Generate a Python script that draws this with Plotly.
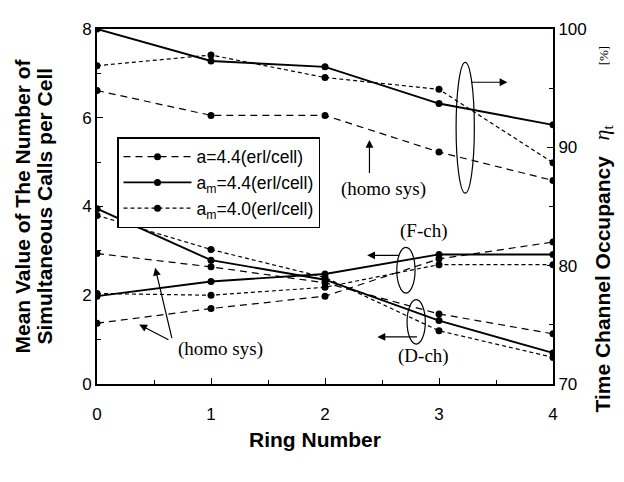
import plotly.graph_objects as go

ring = [0, 1, 2, 3, 4]

# Time channel occupancy [%] (right axis)
occ_a44 = [94.8, 92.7, 92.7, 89.6, 87.2]
occ_am44 = [100.0, 97.3, 96.8, 93.7, 91.9]
occ_am40 = [96.9, 97.8, 95.9, 94.9, 88.7]

# D-ch mean simultaneous calls (left axis)
d_a44 = [2.94, 2.64, 2.28, 1.58, 1.13]
d_am44 = [3.95, 2.79, 2.35, 1.43, 0.70]
d_am40 = [3.80, 3.03, 2.40, 1.20, 0.60]

# F-ch mean simultaneous calls (left axis)
f_a44 = [1.37, 1.70, 1.98, 2.82, 3.20]
f_am44 = [1.98, 2.31, 2.48, 2.92, 2.92]
f_am40 = [2.04, 2.00, 2.18, 2.69, 2.69]

names = ["a=4.4(erl/cell)", "a<sub>m</sub>=4.4(erl/cell)", "a<sub>m</sub>=4.0(erl/cell)"]
styles = [
    dict(dash="7px,5px", width=1.2),
    dict(dash="solid", width=1.9),
    dict(dash="4px,3px", width=1.2),
]

fig = go.Figure()
occ = [occ_a44, occ_am44, occ_am40]
dch = [d_a44, d_am44, d_am40]
fch = [f_a44, f_am44, f_am40]

for i in range(3):
    fig.add_trace(go.Scatter(x=ring, y=occ[i], yaxis="y2", name=names[i], mode="lines+markers",
                             line=dict(color="black", **styles[i]),
                             marker=dict(color="black", size=7), showlegend=True))
for i in range(3):
    fig.add_trace(go.Scatter(x=ring, y=dch[i], name=names[i], mode="lines+markers",
                             line=dict(color="black", **styles[i]),
                             marker=dict(color="black", size=7), showlegend=False))
    fig.add_trace(go.Scatter(x=ring, y=fch[i], name=names[i], mode="lines+markers",
                             line=dict(color="black", **styles[i]),
                             marker=dict(color="black", size=7), showlegend=False))

sans = "Liberation Sans, Arial, sans-serif"
serif = "Liberation Serif, Times New Roman, serif"

# page body has an 8px margin: shrink the figure so the plot lands where the reference has it
W, H = 616, 474
L, R, T, B = 89, 71, 12, 98
PW, PH = W - L - R, H - T - B
X0, Y0 = 8 + L, 8 + T + PH  # page pixel of plot origin


def px(xp):
    return (xp - X0) / PW


def py(yp):
    return (Y0 - yp) / PH


fig.update_layout(
    width=W, height=H,
    margin=dict(l=L, r=R, t=T, b=B),
    plot_bgcolor="white", paper_bgcolor="white",
    font=dict(family=sans, size=17, color="black"),
    xaxis=dict(range=[0, 4], tickvals=[0, 1, 2, 3, 4], ticks="inside", ticklen=6,
               tickcolor="black", showline=True, linecolor="black", linewidth=2,
               mirror=True, showgrid=False, zeroline=False, ticklabelstandoff=14,
               minor=dict(tickvals=[0.5, 1.5, 2.5, 3.5], ticks="inside", ticklen=4, tickcolor="black")),
    yaxis=dict(range=[0, 8], tickvals=[0, 2, 4, 6, 8], ticks="inside", ticklen=6,
               tickcolor="black", showline=True, linecolor="black", linewidth=2,
               showgrid=False, zeroline=False,
               minor=dict(tickvals=[1, 3, 5, 7], ticks="inside", ticklen=4, tickcolor="black")),
    yaxis2=dict(range=[70, 100], tickvals=[70, 80, 90, 100], overlaying="y", side="right",
                ticks="inside", ticklen=6, tickcolor="black", showline=True, linecolor="black",
                linewidth=2, showgrid=False, zeroline=False,
                minor=dict(tickvals=[75, 85, 95], ticks="inside", ticklen=4, tickcolor="black")),
    legend=dict(x=px(117), y=py(131), xanchor="left", yanchor="top",
                bordercolor="black", borderwidth=1.5, bgcolor="white",
                font=dict(size=17.5, family=sans), itemwidth=68),
)

# axis titles as text annotations
fig.add_annotation(xref="paper", yref="paper", x=px(22), y=0.5, textangle=-90,
                   text="<b>Mean Value of The Number of</b>", showarrow=False,
                   xanchor="center", yanchor="middle", font=dict(size=21, family=sans))
fig.add_annotation(xref="paper", yref="paper", x=px(44), y=0.5, textangle=-90,
                   text="<b>Simultaneous Calls per Cell</b>", showarrow=False,
                   xanchor="center", yanchor="middle", font=dict(size=21, family=sans))
fig.add_annotation(xref="paper", yref="paper", x=px(315), y=py(441),
                   text="<b>Ring Number</b>", showarrow=False,
                   xanchor="center", yanchor="middle", font=dict(size=21, family=sans))
fig.add_annotation(xref="paper", yref="paper", x=px(603), y=py(282), textangle=-90,
                   text="<b>Time Channel Occupancy</b>", showarrow=False,
                   xanchor="center", yanchor="middle", font=dict(size=21, family=sans))
fig.add_annotation(xref="paper", yref="paper", x=px(603), y=py(126), textangle=-90,
                   text="<i>η</i><sub>t</sub>", showarrow=False,
                   xanchor="center", yanchor="middle", font=dict(size=22, family=serif))
fig.add_annotation(xref="paper", yref="paper", x=px(603), y=py(47), textangle=-90,
                   text="[%]", showarrow=False,
                   xanchor="center", yanchor="middle", font=dict(size=13, family=serif))


def arrow(x, y, ax, ay):
    fig.add_annotation(x=x, y=y, ax=ax, ay=ay, xref="x", yref="y", axref="x", ayref="y",
                       text="", showarrow=True, arrowhead=2, arrowsize=1.3, arrowwidth=1.2,
                       arrowcolor="black")


def label(x, y, t):
    fig.add_annotation(x=x, y=y, xref="x", yref="y", text=t, showarrow=False,
                       font=dict(family=serif, size=19, color="black"))


def ellipse(x0, x1, y0, y1):
    fig.add_shape(type="circle", xref="x", yref="y", x0=x0, x1=x1, y0=y0, y1=y1,
                  line=dict(color="black", width=1.2))


# upper group (occupancy)
ellipse(3.15, 3.31, 4.30, 7.25)
arrow(3.60, 6.80, 3.27, 6.80)
label(2.51, 4.40, "(homo sys)")
arrow(2.39, 5.50, 2.39, 4.72)

# lower homo sys
label(1.08, 0.80, "(homo sys)")
arrow(0.51, 2.62, 0.66, 1.00)
arrow(0.37, 1.34, 0.64, 0.98)

# F-ch
label(2.86, 3.45, "(F-ch)")
ellipse(2.63, 2.79, 2.05, 3.08)
arrow(2.37, 2.90, 2.66, 2.90)

# D-ch
label(2.86, 0.62, "(D-ch)")
ellipse(2.72, 2.88, 0.90, 1.90)
arrow(2.46, 1.06, 2.82, 1.06)

fig.write_html("out.html")
